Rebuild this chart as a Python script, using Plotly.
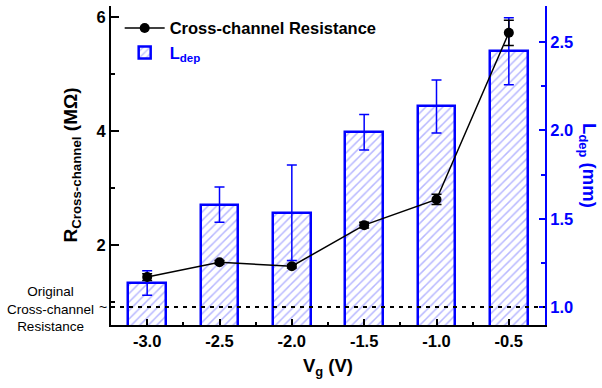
import plotly.graph_objects as go

vg = [-3.0, -2.5, -2.0, -1.5, -1.0, -0.5]
resistance = [1.44, 1.70, 1.63, 2.35, 2.80, 5.72]
resistance_err = [0.06, 0.03, 0.03, 0.05, 0.09, 0.22]
ldep = [1.136, 1.58, 1.534, 1.99, 2.136, 2.449]
ldep_err = [0.07, 0.10, 0.27, 0.10, 0.15, 0.19]
original_ldep_level = 1.0

FONT = "Arial, Liberation Sans, sans-serif"
BLUE = "#0000ff"

fig = go.Figure()

fig.add_trace(go.Bar(
    x=vg, y=ldep, yaxis="y", xaxis="x", width=0.26,
    name="<span style='color:#0000ff'>L<sub>dep</sub></span>",
    marker=dict(color="white", line=dict(color=BLUE, width=2.5),
                pattern=dict(shape="/", fgcolor="#7070ff", bgcolor="white", size=6, solidity=0.25)),
    error_y=dict(type="data", array=ldep_err, color=BLUE, thickness=1.5, width=5),
    legendrank=2,
))

fig.add_trace(go.Scatter(
    x=vg, y=resistance, yaxis="y2", xaxis="x", mode="lines+markers",
    name="Cross-channel Resistance",
    line=dict(color="black", width=1.5),
    marker=dict(color="black", size=10),
    error_y=dict(type="data", array=resistance_err, color="black", thickness=1.5, width=5),
    legendrank=1,
))

fig.add_shape(type="line", xref="paper", yref="y", x0=0, x1=1,
              y0=original_ldep_level, y1=original_ldep_level,
              line=dict(color="black", width=2, dash="4px,5px"), layer="above")

fig.update_layout(
    width=602, height=388,
    margin=dict(l=111, r=57, t=6, b=63),
    paper_bgcolor="white", plot_bgcolor="white",
    font=dict(family=FONT, size=16, color="black"),
    bargap=0,
    showlegend=True,
    legend=dict(x=0.02, y=0.985, xanchor="left", yanchor="top",
                bgcolor="rgba(0,0,0,0)", font=dict(size=16.5, family=FONT, weight="bold"),
                tracegroupgap=0, itemwidth=40),
    xaxis=dict(range=[-3.25, -0.25], tickvals=vg, ticktext=["-3.0", "-2.5", "-2.0", "-1.5", "-1.0", "-0.5"],
               ticks="inside", ticklen=6, tickwidth=1.5, tickcolor="black",
               minor=dict(ticks="inside", ticklen=3, dtick=0.25, tick0=-3.0, tickcolor="black", tickwidth=1.5),
               showline=True, linecolor="black", linewidth=2, showgrid=False, zeroline=False,
               tickfont=dict(size=16.5, weight="bold", color="black"),
               title=dict(text="<b>V<sub>g</sub> (V)</b>", font=dict(size=18.5), standoff=10)),
    xaxis2=dict(range=[-3.25, -0.25], overlaying="x", side="top", anchor="y",
                tick0=-3.0, dtick=0.25, ticks="inside", ticklen=5, tickwidth=1.5, tickcolor=BLUE,
                showline=True, linecolor=BLUE, linewidth=2, showticklabels=False,
                showgrid=False, zeroline=False),
    yaxis=dict(range=[0.898, 2.705], side="right", anchor="x",
               tickvals=[1.0, 1.5, 2.0, 2.5], ticktext=["1.0", "1.5", "2.0", "2.5"],
               ticks="inside", ticklen=6, tickwidth=1.5, tickcolor=BLUE,
               minor=dict(ticks="inside", ticklen=4, dtick=0.25, tick0=1.0, tickcolor=BLUE, tickwidth=1.5),
               showline=True, linecolor=BLUE, linewidth=2, showgrid=False, zeroline=False,
               tickfont=dict(size=16.5, weight="bold", color=BLUE)),
    yaxis2=dict(range=[0.60, 6.19], side="left", overlaying="y", anchor="x",
                tickvals=[2, 4, 6], ticks="inside", ticklen=8, tickwidth=1.5, tickcolor="black",
                minor=dict(ticks="inside", ticklen=4, dtick=1, tick0=1, tickcolor="black", tickwidth=1.5),
                showline=True, linecolor="black", linewidth=2, showgrid=False, zeroline=False,
                tickfont=dict(size=16.5, weight="bold", color="black")),
)

fig.add_annotation(xref="paper", yref="paper", x=-0.092, y=0.5, xanchor="center", yanchor="middle",
                   text="<b>R<sub>Cross-channel</sub> (MΩ)</b>", textangle=-90, showarrow=False,
                   font=dict(size=19, color="black", family=FONT))
fig.add_annotation(xref="paper", yref="paper", x=1.1, y=0.5, xanchor="center", yanchor="middle",
                   text="<b>L<sub>dep</sub> (mm)</b>", textangle=90, showarrow=False,
                   font=dict(size=18.5, color=BLUE, family=FONT))
fig.add_annotation(xref="paper", yref="paper", x=-0.14, y=0.05, xanchor="center", yanchor="middle",
                   text="Original<br>Cross-channel<br>Resistance", showarrow=False, align="center",
                   font=dict(size=13.5, color="black", family=FONT))
fig.add_annotation(xref="paper", yref="y", x=-0.018, y=original_ldep_level, xanchor="center", yanchor="middle",
                   text="~", showarrow=False, font=dict(size=14, color="black", family=FONT))

fig.write_html("out.html")
